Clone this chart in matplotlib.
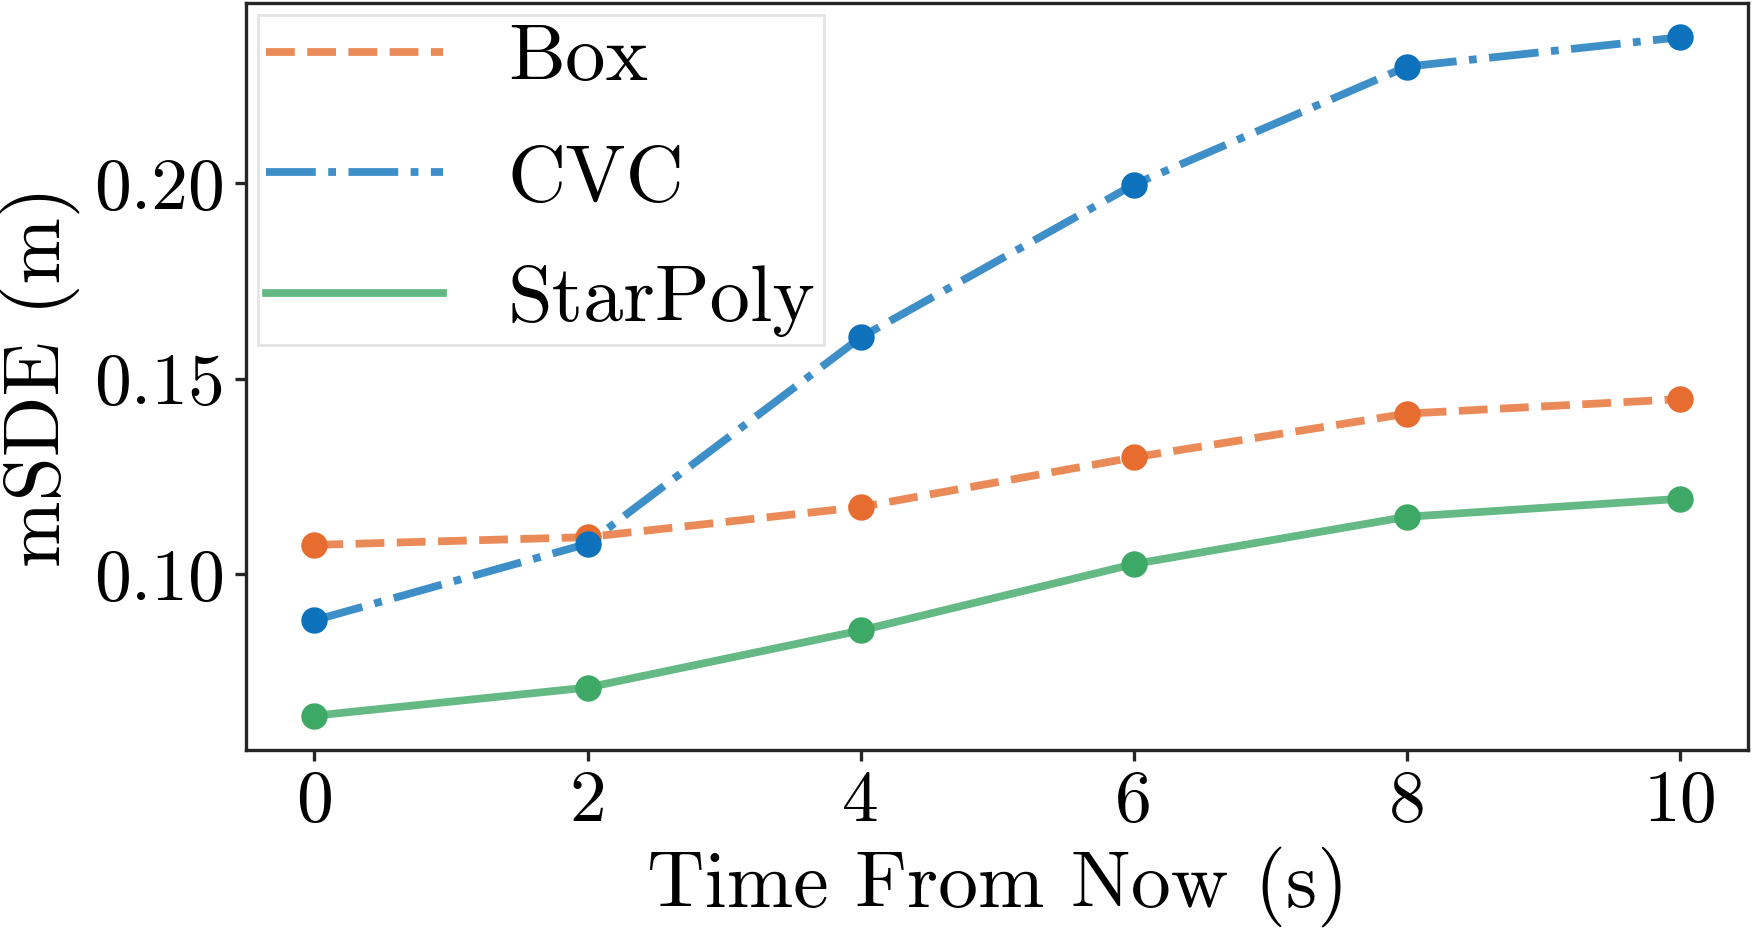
import matplotlib
matplotlib.use('Agg')
import matplotlib.pyplot as plt

# values
times = [0, 2, 4, 6, 8, 10]
box = [0.1075, 0.1095, 0.1172, 0.1299, 0.1411, 0.1448]
cvc = [0.0882, 0.1078, 0.1606, 0.1997, 0.2299, 0.2374]
starpoly = [0.0638, 0.0710, 0.0856, 0.1026, 0.1147, 0.1193]

series_names = ['Box', 'CVC', 'StarPoly']
colors = ['#e66d2f', '#0d72bb', '#3ea866']
styles = ['--', '-.', '-']

plt.rcParams['font.family'] = 'serif'
plt.rcParams['font.serif'] = ['cmr10']
plt.rcParams['axes.formatter.use_mathtext'] = True
plt.rcParams['mathtext.fontset'] = 'cm'
plt.rcParams['font.size'] = 28

fig = plt.figure(figsize=(8.77, 4.66), dpi=200)
ax = fig.add_axes([0.1403, 0.1957, 0.8565, 0.8007])

for name, vals, c, ls in zip(series_names, [box, cvc, starpoly], colors, styles):
    # line drawn faded, markers drawn solid on top
    ax.plot(times, vals, ls, color=c, lw=2.8, alpha=0.8, label=name)
    ax.plot(times, vals, 'o', color=c, ms=8.5, zorder=3)

ax.set_xticks([0, 2, 4, 6, 8, 10])
ax.set_xticklabels(['0', '2', '4', '6', '8', '10'])
ax.set_yticks([0.10, 0.15, 0.20])
ax.set_yticklabels(['0.10', '0.15', '0.20'])
ax.tick_params(labelsize=26.5)
ax.set_xlabel('Time From Now (s)', fontsize=28.7, labelpad=4)
ax.set_ylabel('mSDE (m)', fontsize=28.7, labelpad=5)

for sp in ax.spines.values():
    sp.set_color('#262626')
    sp.set_linewidth(1.2)
ax.tick_params(color='#262626', width=1.2, length=4)

leg = ax.legend(loc='upper left', borderaxespad=0.15, fancybox=False,
                handlelength=2.2, handletextpad=0.8, borderpad=0.1,
                labelspacing=0.6, framealpha=0.8, fontsize=29)
leg.get_frame().set_edgecolor('#dddddd')

fig.savefig('out.png', dpi=200)
